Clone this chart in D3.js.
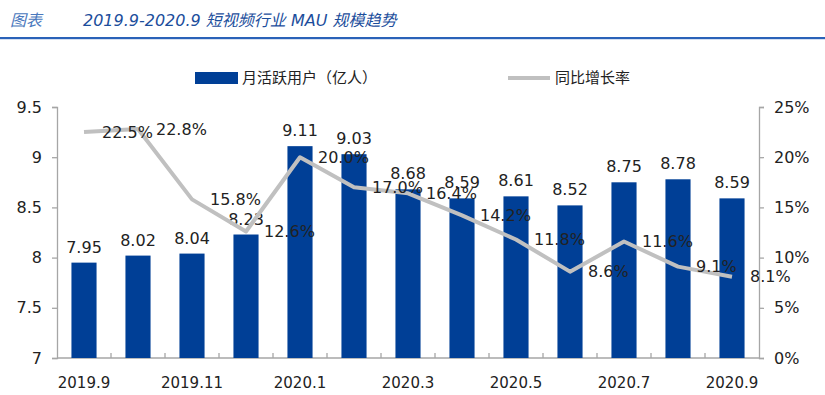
<!DOCTYPE html>
<html><head><meta charset="utf-8">
<script src="https://cdn.jsdelivr.net/npm/d3@7/dist/d3.min.js"></script>
<style>
body{margin:0;background:#fff;}
svg{display:block;font-family:"DejaVu Sans","Noto Sans CJK SC",sans-serif;}
</style></head>
<body><svg id="c" width="825" height="395"></svg>
<script>
const categories = ["2019.9","2019.10","2019.11","2019.12","2020.1","2020.2","2020.3","2020.4","2020.5","2020.6","2020.7","2020.8","2020.9"];
const mau = [7.95,8.02,8.04,8.23,9.11,9.03,8.68,8.59,8.61,8.52,8.75,8.78,8.59];
const growth = [22.5,22.8,15.8,12.6,20.0,17.0,16.4,14.2,11.8,8.6,11.6,9.1,8.1];
const leftTicks = [7,7.5,8,8.5,9,9.5];
const rightTicks = [0,5,10,15,20,25];
const xLabels = ["2019.9","2019.11","2020.1","2020.3","2020.5","2020.7","2020.9"];
const seriesNames = ["月活跃用户（亿人）","同比增长率"];
const titleLabel = "图表";
const titleText = "2019.9-2020.9 短视频行业 MAU 规模趋势";

const svg = d3.select("#c");
const L = 57, R = 759, T = 107, B = 358;
const barColor = "#003f96", lineColor = "#c0c0c0", axisColor = "#a6a6a6";

// title
svg.append("text").attr("x",10).attr("y",26).attr("font-size",16).attr("font-style","italic")
  .attr("fill","#4a78bd").text(titleLabel);
svg.append("text").attr("x",83).attr("y",26).attr("font-size",16).attr("font-style","italic")
  .attr("fill","#1c4e9c").text(titleText);
svg.append("rect").attr("x",0).attr("y",37).attr("width",825).attr("height",2.2).attr("fill","#2a62b8");

const x = d3.scaleBand().domain(categories).range([L,R]);
const y = d3.scaleLinear().domain([7,9.5]).range([B,T]);
const y2 = d3.scaleLinear().domain([0,25]).range([B,T]);
const bw = x.bandwidth()*0.465;

// axes
const gl = svg.append("g").attr("transform",`translate(${L},0)`)
  .call(d3.axisLeft(y).tickValues(leftTicks).tickFormat(d=>d3.format("")(d)).tickSize(5).tickPadding(10));
const gr = svg.append("g").attr("transform",`translate(${R},0)`)
  .call(d3.axisRight(y2).tickValues(rightTicks).tickFormat(d=>d+"%").tickSize(5).tickPadding(10));
[gl,gr].forEach(g=>{
  g.select(".domain").attr("stroke",axisColor).attr("stroke-width",1.3);
  g.selectAll(".tick line").attr("stroke",axisColor).attr("stroke-width",1.3);
  g.selectAll(".tick text").attr("font-size",16).attr("fill","#222").attr("font-family","DejaVu Sans");
});
// x axis baseline + ticks at band boundaries
svg.append("line").attr("x1",L).attr("x2",R).attr("y1",B).attr("y2",B).attr("stroke",axisColor).attr("stroke-width",1.3);
categories.forEach((c,i)=>{
  if(i>0){
    const bx = x(c);
    svg.append("line").attr("x1",bx).attr("x2",bx).attr("y1",B).attr("y2",B-5).attr("stroke",axisColor).attr("stroke-width",1.3);
  }
});
svg.selectAll(".xl").data(xLabels).enter().append("text")
  .attr("x",d=>x(d)+x.bandwidth()/2).attr("y",388).attr("text-anchor","middle")
  .attr("font-size",15).attr("fill","#222").text(d=>d);

// bars
svg.selectAll(".bar").data(mau).enter().append("rect")
  .attr("x",(d,i)=>x(categories[i])+x.bandwidth()/2-bw/2)
  .attr("y",d=>y(d)).attr("width",bw).attr("height",d=>B-y(d)).attr("fill",barColor);
svg.selectAll(".bl").data(mau).enter().append("text")
  .attr("x",(d,i)=>x(categories[i])+x.bandwidth()/2).attr("y",d=>y(d)-10)
  .attr("text-anchor","middle").attr("font-size",16).attr("fill","#222").text(d=>d3.format(".2f")(d));

// line
const line = d3.line().x((d,i)=>x(categories[i])+x.bandwidth()/2).y(d=>y2(d));
svg.append("path").datum(growth).attr("d",line).attr("fill","none")
  .attr("stroke",lineColor).attr("stroke-width",4).attr("stroke-linejoin","round");
svg.selectAll(".ll").data(growth).enter().append("text")
  .attr("x",(d,i)=>x(categories[i])+x.bandwidth()/2+18).attr("y",d=>y2(d))
  .attr("dy","0.36em").attr("font-size",16).attr("fill","#222").text(d=>d.toFixed(1)+"%");

// legend
svg.append("rect").attr("x",195).attr("y",72).attr("width",43).attr("height",12).attr("fill",barColor);
svg.append("text").attr("x",242).attr("y",78).attr("dy","0.36em").attr("font-size",15).attr("fill","#222")
  .attr("font-family","Noto Sans CJK SC").text(seriesNames[0]);
svg.append("line").attr("x1",508).attr("x2",550).attr("y1",78).attr("y2",78).attr("stroke",lineColor).attr("stroke-width",4);
svg.append("text").attr("x",555).attr("y",78).attr("dy","0.36em").attr("font-size",15).attr("fill","#222")
  .attr("font-family","Noto Sans CJK SC").text(seriesNames[1]);
</script></body></html>
